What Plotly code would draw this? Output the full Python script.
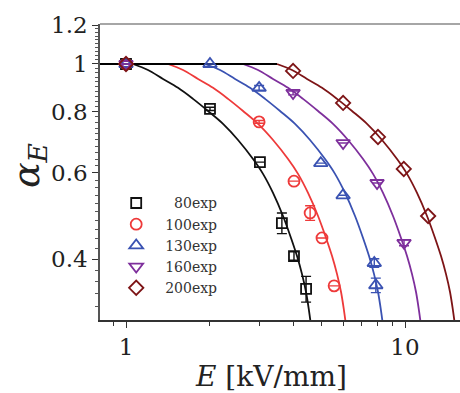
import plotly.graph_objects as go

# ---------------- data ----------------
E80 = [1.0, 2.0, 3.02, 3.62, 4.0, 4.42]
A80 = [1.0, 0.81, 0.631, 0.474, 0.406, 0.348]
ERR80 = [0, 0.006, 0, 0.023, 0.008, 0.021]

E100 = [1.0, 3.0, 4.0, 4.57, 5.04, 5.57]
A100 = [1.0, 0.762, 0.577, 0.497, 0.442, 0.353]
ERR100 = [0, 0.005, 0, 0.017, 0, 0]

E130 = [1.0, 2.0, 3.0, 4.99, 6.0, 7.76, 7.86]
A130 = [1.0, 1.0, 0.894, 0.628, 0.540, 0.393, 0.354]
ERR130 = [0, 0, 0.01, 0, 0, 0.008, 0.012]

E160 = [1.0, 3.97, 6.0, 7.94, 9.92]
A160 = [1.0, 0.873, 0.690, 0.572, 0.432]
ERR160 = [0, 0.008, 0, 0, 0.006]

E200 = [1.0, 3.97, 6.0, 8.0, 9.9, 12.1]
A200 = [1.0, 0.968, 0.833, 0.710, 0.611, 0.490]

# fitted curves
FIT_ALPHA = [1.0, 0.972, 0.932, 0.894, 0.849, 0.802, 0.755, 0.700, 0.640,
             0.597, 0.546, 0.490, 0.442, 0.406, 0.373, 0.343, 0.314, 0.298]
FIT_E80 = [1.0595, 1.1991, 1.3572, 1.5361, 1.7386, 1.9678, 2.2272, 2.5207, 2.8529,
           3.0978, 3.3642, 3.6537, 3.9032, 4.1014, 4.2742, 4.4178, 4.5285, 4.5850]
FIT_E100 = [1.4146, 1.6010, 1.8121, 2.0509, 2.3214, 2.6273, 2.9736, 3.3655, 3.8091,
            4.1360, 4.4918, 4.8783, 5.2114, 5.4761, 5.7068, 5.8985, 6.0463, 6.1217]
FIT_E130 = [1.9196, 2.1726, 2.4590, 2.7830, 3.1501, 3.5653, 4.0352, 4.5669, 5.1689,
            5.6125, 6.0953, 6.6197, 7.0718, 7.4310, 7.7441, 8.0042, 8.2048, 8.3071]
FIT_E160 = [2.6265, 2.9727, 3.3645, 3.8079, 4.3101, 4.8782, 5.5212, 6.2487, 7.0724,
            7.6794, 8.3399, 9.0575, 9.6760, 10.1674, 10.5958, 10.9517, 11.2262, 11.3662]
FIT_E200 = [3.4771, 3.9354, 4.4542, 5.0411, 5.7059, 6.4580, 7.3092, 8.2724, 9.3628,
            10.1664, 11.0409, 11.9908, 12.8096, 13.4602, 14.0273, 14.4985, 14.8618, 15.0471]

FLAT_E = [0.8, 3.4771]
FLAT_A = [1.0, 1.0]

NAMES = ["\u200780exp", "100exp", "130exp", "160exp", "200exp"]
COLORS = ["#111111", "#ee3a3a", "#3a52b2", "#7e2f9c", "#7d1416"]
SYMBOLS = ["square-open", "circle-open", "triangle-up-open", "triangle-down-open", "diamond-open"]
SIZES = [10, 11, 12, 12, 11]

Y_TICKS = [0.4, 0.6, 0.8, 1.0, 1.2]
Y_TICK_TEXT = ["0.4", "0.6", "0.8", "1", "1.2"]
X_TICKS = [1, 10]
X_TICK_TEXT = ["1", "10"]

FONT = "DejaVu Serif"

fig = go.Figure()

fits = [FIT_E80, FIT_E100, FIT_E130, FIT_E160, FIT_E200]
for fe, c in zip(fits, COLORS):
    fig.add_trace(go.Scatter(x=fe, y=FIT_ALPHA, mode="lines", line=dict(color=c, width=1.8, shape="spline"),
                             showlegend=False, hoverinfo="skip"))

fig.add_trace(go.Scatter(x=FLAT_E, y=FLAT_A, mode="lines", line=dict(color="#000000", width=1.8),
                         showlegend=False, hoverinfo="skip"))

series = [(E80, A80, ERR80), (E100, A100, ERR100), (E130, A130, ERR130),
          (E160, A160, ERR160), (E200, A200, None)]
for (ex, ay, err), name, c, s, sz in zip(series, NAMES, COLORS, SYMBOLS, SIZES):
    kw = {}
    if err is not None:
        kw["error_y"] = dict(type="data", array=err, visible=True, color=c, thickness=1.4, width=5)
    fig.add_trace(go.Scatter(x=ex, y=ay, mode="markers", name=name,
                             marker=dict(symbol=s, size=sz, color=c, line=dict(color=c, width=1.8)),
                             **kw))

minor_y = [round(0.30 + 0.02 * i, 2) for i in range(46)]
fig.update_layout(
    width=460, height=393,
    margin=dict(l=100, r=0, t=24, b=73),
    paper_bgcolor="white", plot_bgcolor="white",
    font=dict(family=FONT, color="#222222"),
    xaxis=dict(type="log", range=[-0.0932, 1.1971], tickvals=X_TICKS, ticktext=X_TICK_TEXT,
               ticks="outside", ticklen=6, tickwidth=1.2, tickcolor="#333",
               showline=True, linecolor="#333", linewidth=1.5, showgrid=False, zeroline=False,
               mirror=False, tickfont=dict(size=23, family=FONT, color="#222"),
               minor=dict(tickvals=[0.9, 2, 3, 4, 5, 6, 7, 8, 9, 20], ticks="outside",
                          ticklen=4, tickwidth=1.2, tickcolor="#333", showgrid=False)),
    yaxis=dict(type="log", range=[-0.5218, 0.0815], tickvals=Y_TICKS, ticktext=Y_TICK_TEXT,
               ticks="outside", ticklen=6, tickwidth=1.2, tickcolor="#333",
               showline=True, linecolor="#555", linewidth=1.5, showgrid=False, zeroline=False,
               tickfont=dict(size=23, family=FONT, color="#222"),
               minor=dict(tickvals=minor_y, ticks="outside", ticklen=3, tickwidth=1,
                          tickcolor="#555", showgrid=False)),
    legend=dict(x=0.02, y=0.448, xanchor="left", yanchor="top", bgcolor="rgba(0,0,0,0)",
                font=dict(size=14, family=FONT, color="#333"), itemwidth=48),
    showlegend=True,
)

fig.add_shape(type="line", xref="paper", yref="paper", x0=0, x1=1, y0=1, y1=1,
              line=dict(color="#888888", width=1.5))

fig.add_annotation(text="<i>α</i><sub><i>E</i></sub>", xref="paper", yref="paper",
                   x=-0.2, y=0.52, xanchor="center", yanchor="middle", textangle=-90,
                   showarrow=False, font=dict(size=38, family=FONT, color="#222"))
fig.add_annotation(text="<i>E</i> [kV/mm]", xref="paper", yref="paper",
                   x=0.475, y=-0.19, xanchor="center", yanchor="middle",
                   showarrow=False, font=dict(size=28, family=FONT, color="#222"))

fig.write_html("out.html")
